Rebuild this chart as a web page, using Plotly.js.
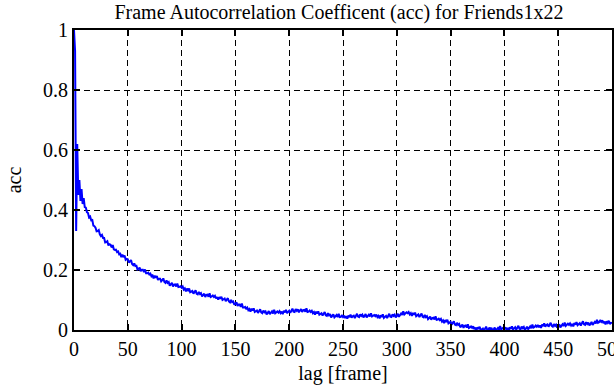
<!DOCTYPE html>
<html>
<head>
<meta charset="utf-8">
<script src="https://cdn.plot.ly/plotly-3.0.1.min.js"></script>
<style>html,body{margin:0;padding:0;background:#fff;}#chart{width:614px;height:385px;}</style>
</head>
<body>
<div id="chart"></div>
<script>
// One value per frame lag, starting at lag 0
const lagStart = 0;
const lagStep = 1;
const acc = [
  1.0, 0.93, 0.33, 0.62, 0.45, 0.5, 0.43, 0.47, 0.42, 0.44,
  .410,.408,.393,.390,.375,.378,.366,.367,.348,.346,
  .341,.329,.330,.333,.319,.313,.317,.307,.307,.292,
  .293,.296,.282,.286,.284,.275,.283,.269,.267,.268,
  .260,.262,.252,.254,.243,.251,.243,.248,.234,.237,
  .236,.225,.229,.233,.220,.216,.222,.213,.214,.202,
  .204,.208,.196,.201,.201,.193,.202,.189,.189,.191,
  .185,.188,.179,.182,.172,.181,.174,.180,.167,.171,
  .171,.162,.166,.172,.160,.157,.165,.157,.160,.148,
  .152,.157,.145,.151,.152,.145,.155,.143,.144,.146,
  .141,.145,.135,.139,.129,.138,.132,.138,.126,.129,
  .130,.121,.126,.132,.121,.119,.127,.120,.123,.112,
  .116,.121,.110,.117,.118,.111,.122,.110,.112,.115,
  .110,.114,.105,.110,.101,.110,.104,.111,.100,.104,
  .105,.096,.101,.106,.095,.092,.100,.093,.095,.084,
  .088,.092,.080,.085,.085,.077,.088,.075,.075,.077,
  .071,.075,.066,.070,.061,.071,.065,.072,.060,.064,
  .065,.057,.062,.069,.059,.056,.065,.059,.062,.052,
  .057,.063,.053,.060,.062,.055,.067,.056,.058,.062,
  .058,.063,.056,.061,.053,.064,.059,.067,.056,.062,
  .064,.057,.063,.071,.061,.060,.070,.064,.069,.059,
  .065,.070,.060,.066,.067,.061,.072,.060,.061,.065,
  .060,.064,.056,.060,.051,.061,.055,.062,.051,.055,
  .056,.048,.053,.060,.049,.047,.056,.049,.053,.042,
  .047,.052,.042,.048,.050,.043,.054,.043,.044,.048,
  .043,.048,.040,.046,.038,.048,.043,.051,.041,.046,
  .048,.040,.047,.054,.045,.043,.052,.047,.051,.042,
  .047,.053,.042,.049,.051,.045,.056,.045,.047,.050,
  .046,.051,.043,.047,.039,.049,.044,.052,.040,.045,
  .047,.040,.046,.054,.044,.043,.052,.047,.051,.042,
  .047,.054,.044,.052,.055,.050,.062,.052,.055,.059,
  .056,.060,.052,.056,.047,.057,.051,.058,.046,.051,
  .052,.043,.049,.055,.044,.042,.050,.043,.046,.036,
  .040,.045,.034,.040,.041,.035,.046,.034,.035,.038,
  .033,.037,.028,.032,.023,.033,.027,.034,.022,.026,
  .027,.018,.023,.029,.018,.016,.024,.017,.020,.009,
  .013,.018,.007,.014,.015,.008,.019,.007,.009,.012,
  .007,.012,.003,.008,-.001,.009,.003,.011,-.001,.004,
  .005,-.003,.003,.011,.001,-.001,.008,.002,.007,-.003,
  .002,.008,-.002,.005,.007,.001,.013,.002,.004,.008,
  .004,.009,.001,.007,-.001,.009,.004,.012,.002,.007,
  .009,.001,.007,.014,.004,.002,.011,.006,.010,.000,
  .005,.011,.002,.009,.012,.006,.018,.008,.010,.015,
  .011,.017,.009,.015,.007,.018,.013,.022,.011,.017,
  .019,.011,.017,.024,.014,.011,.020,.014,.018,.008,
  .013,.019,.009,.017,.019,.013,.025,.014,.017,.021,
  .017,.022,.015,.020,.012,.023,.018,.026,.016,.021,
  .023,.015,.021,.029,.019,.017,.026,.020,.025,.015,
  .020,.027,.017,.025,.027,.022,.034,.024,.026,.031,
  .027,.032,.023,.028,.019,.029,.024,.031,.020,.024,
  .023
];

const xTickVals = [0, 50, 100, 150, 200, 250, 300, 350, 400, 450, 500];
const xTickText = ['0', '50', '100', '150', '200', '250', '300', '350', '400', '450', '500'];
const yTickVals = [0, 0.2, 0.4, 0.6, 0.8, 1];
const yTickText = ['0', '0.2', '0.4', '0.6', '0.8', '1'];

const titleText = 'Frame Autocorrelation Coefficent (acc) for Friends1x22';
const xTitle = 'lag [frame]';
const yTitle = 'acc';

const lags = acc.map((_, i) => lagStart + i * lagStep);

const serif = 'Liberation Serif';
function mkFont() { return {family: serif, size: 20, color: '#000'}; }

function axisCommon() {
  return {
    showline: true, linecolor: '#000', linewidth: 2, mirror: 'ticks',
    ticks: 'inside', ticklen: 6, tickwidth: 2, tickcolor: '#000',
    showgrid: true, gridcolor: '#000', gridwidth: 1, griddash: '6px,4px',
    zeroline: false, tickfont: mkFont(), ticklabeloverflow: 'allow'
  };
}

const layout = {
  width: 614, height: 385,
  margin: {l: 74, r: 2, t: 30, b: 55},
  paper_bgcolor: '#fff', plot_bgcolor: '#fff',
  showlegend: false,
  font: mkFont(),
  title: {text: titleText, font: mkFont(), xref: 'container', yref: 'container', x: 0.552, xanchor: 'center', y: 0.968, yanchor: 'middle'},
  xaxis: Object.assign(axisCommon(), {
    range: [0, 500], tickmode: 'array', tickvals: xTickVals, ticktext: xTickText,
    title: {text: xTitle, font: mkFont(), standoff: 10}
  }),
  yaxis: Object.assign(axisCommon(), {
    range: [0, 1], tickmode: 'array', tickvals: yTickVals, ticktext: yTickText,
    title: {text: yTitle, font: mkFont(), standoff: 16}
  })
};

Plotly.newPlot('chart', [{
  x: lags, y: acc, type: 'scatter', mode: 'lines',
  line: {color: '#0000ff', width: 2}
}], layout, {displayModeBar: false, staticPlot: true});
</script>
</body>
</html>
